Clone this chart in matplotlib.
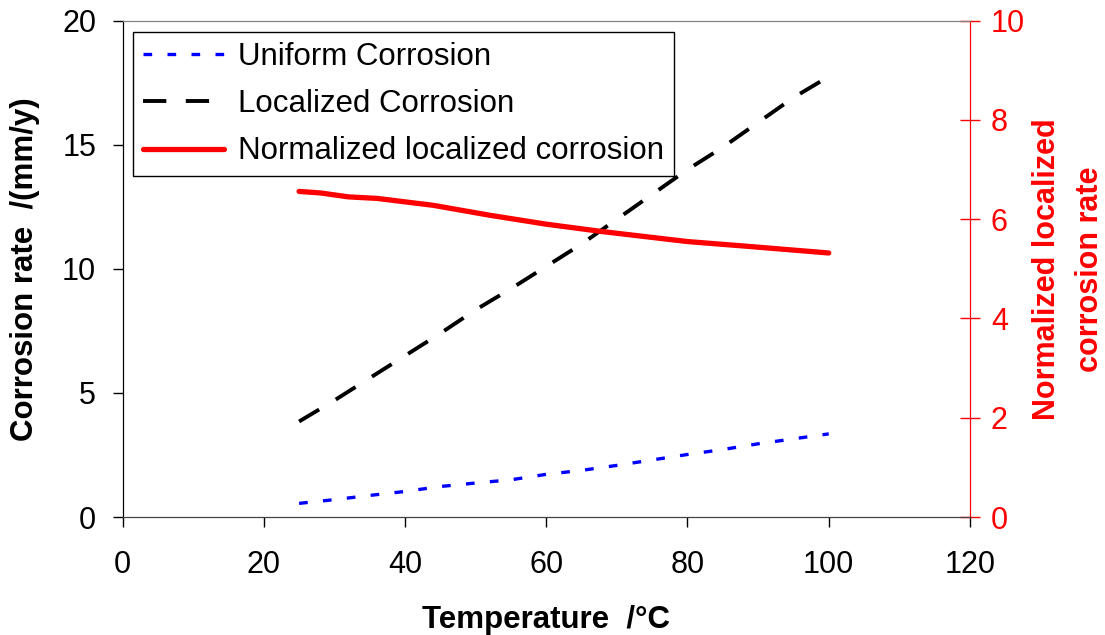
import matplotlib
matplotlib.use("Agg")
import matplotlib.pyplot as plt

plt.rcParams['font.family'] = ['Liberation Sans', 'DejaVu Sans']

# temperature steps (deg C)
temps = [25, 30, 35, 40, 45, 50, 55, 60, 65, 70, 75, 80, 85, 90, 95, 100]
# corrosion rates in mm/y
uniform = [0.55, 0.70, 0.87, 1.03, 1.23, 1.37, 1.50, 1.72,
           1.88, 2.08, 2.30, 2.52, 2.72, 2.95, 3.15, 3.35]
localized = [3.85, 4.70, 5.60, 6.50, 7.40, 8.35, 9.20, 10.10,
             11.00, 12.00, 13.00, 14.00, 14.90, 15.90, 16.90, 17.75]
# normalized localized corrosion rate (right axis)
norm_temps = [25, 28, 32, 36, 44, 52, 60, 68, 80, 88, 100]
normalized = [6.56, 6.53, 6.45, 6.42, 6.28, 6.08, 5.90, 5.75, 5.55, 5.46, 5.32]

fig = plt.figure(figsize=(11.05, 6.35), dpi=100)
ax = fig.add_axes([0.1109, 0.1858, 0.7669, 0.7816])
ax2 = ax.twinx()

l1, = ax.plot(temps, uniform, color='#0000ff', lw=2.4, dashes=(2.6, 4.6),
              label='Uniform Corrosion')
l2, = ax.plot(temps, localized, color='black', lw=2.8, dashes=(6, 5),
              label='Localized Corrosion')
l3, = ax2.plot(norm_temps, normalized, color='#ff0000', lw=3.8,
               solid_capstyle='round', label='Normalized localized corrosion')

ax.set_xlim(0, 120)
ax.set_ylim(0, 20)
ax2.set_ylim(0, 10)
ax.set_xticks(range(0, 121, 20))
ax.set_yticks(range(0, 21, 5))
ax2.set_yticks(range(0, 11, 2))

ax.tick_params(axis='x', direction='out', length=7, width=1, labelsize=22, pad=17)
ax.tick_params(axis='y', direction='out', length=7, width=1, labelsize=22, pad=12)
ax2.tick_params(axis='y', direction='inout', length=14, width=1, labelsize=22, pad=8,
                colors='#ff0000')

for a in (ax, ax2):
    a.spines['top'].set_color('#808080')
    a.spines['left'].set_color('black')
    a.spines['bottom'].set_color('#404040')
    a.spines['right'].set_color('#ff0000')

ax.set_xlabel('Temperature  /°C', fontsize=22.5, fontweight='bold', labelpad=18)
ax.set_ylabel('Corrosion rate  /(mm/y)', fontsize=22.5, fontweight='bold', labelpad=16)
ax2.set_ylabel('Normalized localized\ncorrosion rate', fontsize=22, fontweight='bold',
               color='#ff0000', rotation=90, labelpad=5, linespacing=1.55)

leg = ax2.legend(handles=[l1, l2, l3], loc='upper left',
                 bbox_to_anchor=(0.0125, 0.977), fontsize=22.5, frameon=True,
                 fancybox=False, edgecolor='black', framealpha=1,
                 handlelength=2.6, handletextpad=0.45, borderpad=0.32,
                 labelspacing=0.55, borderaxespad=0)
leg.get_frame().set_linewidth(1.0)

fig.savefig('out.png', dpi=100)
